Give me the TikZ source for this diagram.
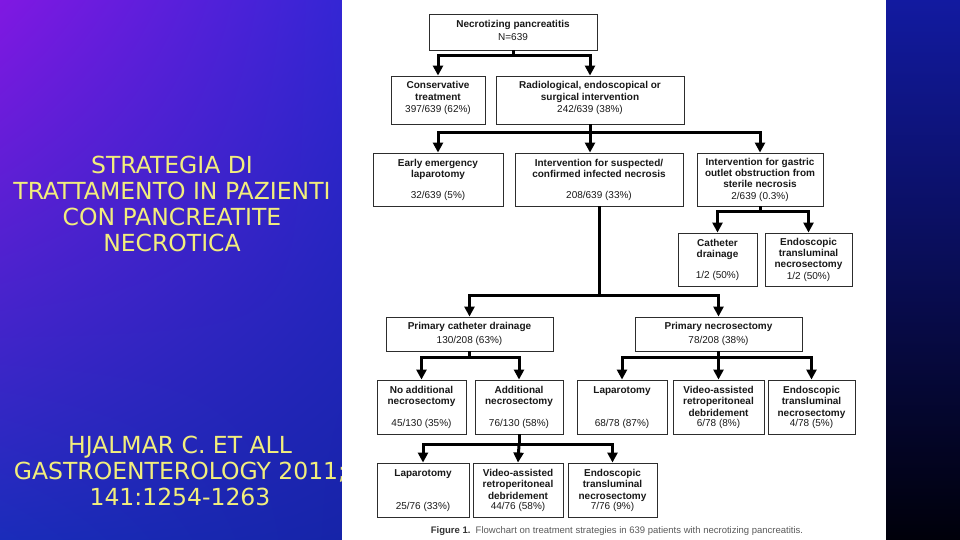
\documentclass[tikz,border=0pt]{standalone}
\usepackage{fontspec}
\setmainfont{Liberation Sans}
\newfontfamily\slidefont{DejaVu Sans}
\usetikzlibrary{arrows.meta,calc,shadings}

\definecolor{bgUL}{RGB}{128,24,226}
\definecolor{bgUR}{RGB}{52,38,212}
\definecolor{bgLL}{RGB}{26,44,186}
\definecolor{bgLR}{RGB}{22,36,168}
\definecolor{rsTop}{RGB}{18,26,160}
\definecolor{rsBot}{RGB}{0,0,10}
\definecolor{slideyellow}{RGB}{242,238,124}
\definecolor{boxline}{RGB}{45,45,45}
\definecolor{boxtext}{RGB}{25,25,25}
\definecolor{captext}{RGB}{90,90,90}

\begin{document}
\begin{tikzpicture}[x=1pt,y=-1pt,
  fbox/.style={draw=boxline, line width=0.9pt, fill=white, rectangle, inner sep=0pt},
  ttl/.style={anchor=north, inner sep=0pt, align=center, text=boxtext, font=\fontsize{10}{11.3}\selectfont\bfseries},
  num/.style={anchor=south, inner sep=0pt, align=center, text=boxtext, font=\fontsize{10}{11.3}\selectfont},
  ctr/.style={inner sep=0pt, align=center, text=boxtext, font=\fontsize{10}{11.3}\selectfont},
  conn/.style={line width=3pt, draw=black},
  arr/.style={conn, -{Triangle[width=10pt,length=10pt]}},
  slide/.style={text=slideyellow, align=center, inner sep=0pt, font=\slidefont\fontsize{23.5}{26.2}\selectfont}
]
\useasboundingbox (0,0) rectangle (960,540);
% background
\shade[upper left=bgUL, upper right=bgUR, lower left=bgLL, lower right=bgLR] (0,0) rectangle (342,540);
\shade[top color=rsTop, bottom color=rsBot] (886,0) rectangle (960,540);
% slide texts
\node[slide] (title) at (172,204) {STRATEGIA DI\\TRATTAMENTO IN PAZIENTI\\CON PANCREATITE\\NECROTICA};
\node[slide] (ref) at (180,471) {HJALMAR C. ET ALL\\GASTROENTEROLOGY 2011;\\141:1254-1263};
% white panel
\fill[white] (342,0) rectangle (886,540);

% boxes
\node[fbox, minimum width=168pt, minimum height=36pt] (necro) at (513,32) {};
\node[fbox, minimum width=94pt, minimum height=48pt] (cons) at (438,100) {};
\node[fbox, minimum width=188pt, minimum height=48pt] (rad) at (590,100) {};
\node[fbox, minimum width=130pt, minimum height=53pt] (early) at (438,179.5) {};
\node[fbox, minimum width=168pt, minimum height=53pt] (interv) at (599,179.5) {};
\node[fbox, minimum width=126pt, minimum height=53pt] (gastric) at (760,179.5) {};
\node[fbox, minimum width=79pt, minimum height=53pt] (cath) at (717.5,259.5) {};
\node[fbox, minimum width=87pt, minimum height=53pt] (endoA) at (808.5,259.5) {};
\node[fbox, minimum width=167pt, minimum height=34pt] (primcath) at (469.5,334) {};
\node[fbox, minimum width=167pt, minimum height=34pt] (primnec) at (718.5,334) {};
\node[fbox, minimum width=89pt, minimum height=54pt] (noadd) at (421.5,407) {};
\node[fbox, minimum width=88pt, minimum height=54pt] (add) at (519,407) {};
\node[fbox, minimum width=90pt, minimum height=54pt] (lapA) at (622,407) {};
\node[fbox, minimum width=91pt, minimum height=54pt] (vidA) at (718.5,407) {};
\node[fbox, minimum width=87pt, minimum height=54pt] (endoB) at (811.5,407) {};
\node[fbox, minimum width=92pt, minimum height=54pt] (lapB) at (423,490) {};
\node[fbox, minimum width=90pt, minimum height=54pt] (vidB) at (518,490) {};
\node[fbox, minimum width=89pt, minimum height=54pt] (endoC) at (612.5,490) {};

% texts
\node[ctr] (necroT) at ([yshift=1.5pt]necro.center) {\textbf{Necrotizing pancreatitis}\\[2pt]N=639};
\node[ctr] (consT) at ([yshift=2pt]cons.center) {\textbf{Conservative}\\[0.8pt]\textbf{treatment}\\[0.8pt]397/639 (62\%)};
\node[ctr] (radT) at ([yshift=2pt]rad.center) {\textbf{Radiological, endoscopical or}\\[0.8pt]\textbf{surgical intervention}\\[0.8pt]242/639 (38\%)};
\node[ttl] (earlyT) at ([yshift=-6.5pt]early.north) {Early emergency\\laparotomy};
\node[num] (earlyN) at ([yshift=5.5pt]early.south) {32/639 (5\%)};
\node[ttl] (intervT) at ([yshift=-6.5pt]interv.north) {Intervention for suspected/\\confirmed infected necrosis};
\node[num] (intervN) at ([yshift=5.5pt]interv.south) {208/639 (33\%)};
\node[ctr] (gastricT) at (gastric.center) {\textbf{Intervention for gastric}\\\textbf{outlet obstruction from}\\\textbf{sterile necrosis}\\2/639 (0.3\%)};
\node[ttl] (cathT) at ([yshift=-6.5pt]cath.north) {Catheter\\drainage};
\node[num] (cathN) at ([yshift=5.5pt]cath.south) {1/2 (50\%)};
\node[ctr] (endoAT) at (endoA.center) {\textbf{Endoscopic}\\\textbf{transluminal}\\\textbf{necrosectomy}\\1/2 (50\%)};
\node[ctr] (primcathT) at (primcath.center) {\textbf{Primary catheter drainage}\\[3pt]130/208 (63\%)};
\node[ctr] (primnecT) at (primnec.center) {\textbf{Primary necrosectomy}\\[3pt]78/208 (38\%)};
\node[ttl] (noaddT) at ([yshift=-6.5pt]noadd.north) {No additional\\necrosectomy};
\node[num] (noaddN) at ([yshift=5.5pt]noadd.south) {45/130 (35\%)};
\node[ttl] (addT) at ([yshift=-6.5pt]add.north) {Additional\\necrosectomy};
\node[num] (addN) at ([yshift=5.5pt]add.south) {76/130 (58\%)};
\node[ttl] (lapAT) at ([yshift=-6.5pt]lapA.north) {Laparotomy};
\node[num] (lapAN) at ([yshift=5.5pt]lapA.south) {68/78 (87\%)};
\node[ttl] (vidAT) at ([yshift=-6.5pt]vidA.north) {Video-assisted\\retroperitoneal\\debridement};
\node[num] (vidAN) at ([yshift=5.5pt]vidA.south) {6/78 (8\%)};
\node[ttl] (endoBT) at ([yshift=-6.5pt]endoB.north) {Endoscopic\\transluminal\\necrosectomy};
\node[num] (endoBN) at ([yshift=5.5pt]endoB.south) {4/78 (5\%)};
\node[ttl] (lapBT) at ([yshift=-6.5pt]lapB.north) {Laparotomy};
\node[num] (lapBN) at ([yshift=5.5pt]lapB.south) {25/76 (33\%)};
\node[ttl] (vidBT) at ([yshift=-6.5pt]vidB.north) {Video-assisted\\retroperitoneal\\debridement};
\node[num] (vidBN) at ([yshift=5.5pt]vidB.south) {44/76 (58\%)};
\node[ttl] (endoCT) at ([yshift=-6.5pt]endoC.north) {Endoscopic\\transluminal\\necrosectomy};
\node[num] (endoCN) at ([yshift=5.5pt]endoC.south) {7/76 (9\%)};

% connectors
\draw[conn] (necro.south) -- ++(0,5) coordinate (b1);
\draw[arr] (b1) -| (cons.north);
\draw[arr] (b1) -| (rad.north);

\draw[conn] (rad.south) -- ++(0,8) coordinate (b2);
\draw[arr] (b2) -| (early.north);
\draw[arr] (b2) -- (b2 |- interv.north);
\draw[arr] (b2) -| (gastric.north);

\draw[conn] (gastric.south) -- ++(0,5) coordinate (b3);
\draw[arr] (b3) -| (cath.north);
\draw[arr] (b3) -| (endoA.north);

\draw[conn] (interv.south) -- ++(0,89) coordinate (b4);
\draw[arr] (b4) -| (primcath.north);
\draw[arr] (b4) -| (primnec.north);

\draw[conn] (primcath.south) -- ++(0,6) coordinate (b5);
\draw[arr] (b5) -| (noadd.north);
\draw[arr] (b5) -| (add.north);

\draw[conn] (primnec.south) -- ++(0,6) coordinate (b6);
\draw[arr] (b6) -| (lapA.north);
\draw[arr] (b6) -- (vidA.north);
\draw[arr] (b6) -| (endoB.north);

\draw[conn] (add.south) -- ++(0,10) coordinate (b7);
\draw[arr] (b7) -| (lapB.north);
\draw[arr] (b7) -- (vidB.north);
\draw[arr] (b7) -| (endoC.north);

% caption
\node[inner sep=0pt, text=captext, font=\fontsize{9.5}{11}\selectfont] (cap) at (617,531) {\textbf{\color{black!80}Figure 1.}\ \ Flowchart on treatment strategies in 639 patients with necrotizing pancreatitis.};
\end{tikzpicture}
\end{document}
